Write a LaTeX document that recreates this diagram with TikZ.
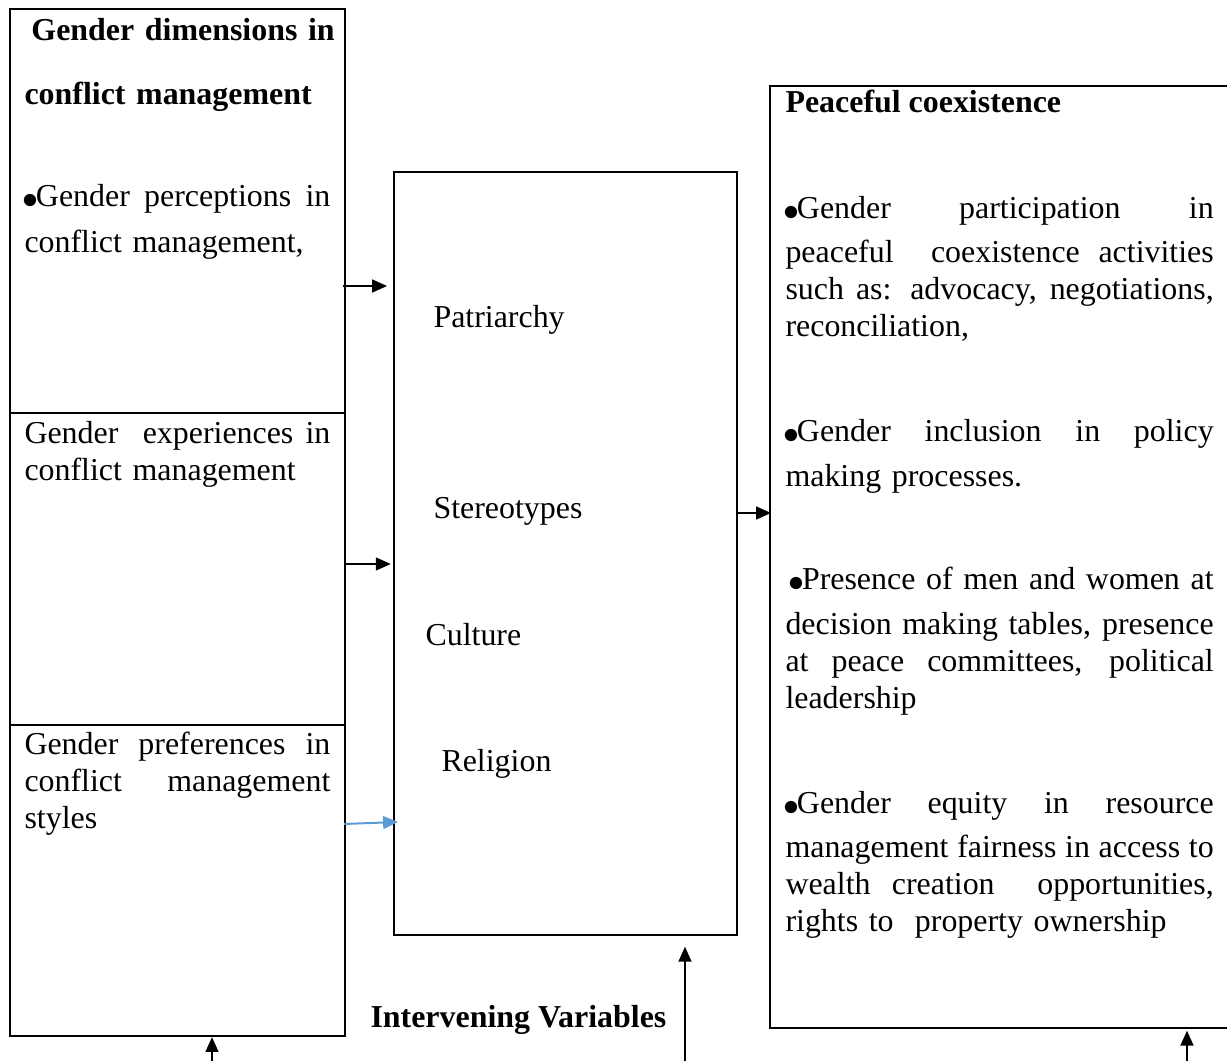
\documentclass[tikz,border=0pt]{standalone}
\usepackage{fontspec}
\setmainfont{Liberation Serif}
\usetikzlibrary{arrows.meta,fit}

\newcommand{\jl}[2]{\makebox[#1][s]{\spaceskip=0pt\xspaceskip=0pt\strut#2}}
\newcommand{\bul}{\raisebox{-0.8pt}{\hbox to 4.3pt{\hss\fontsize{11.5}{11.5}\selectfont$\bullet$\hss}}}

\begin{document}
\begin{tikzpicture}[
  x=0.376pt, y=-0.376pt,
  every node/.style={font=\fontsize{12}{13.9}\selectfont},
  box/.style={draw, line width=0.8pt, inner sep=0pt},
  ltext/.style={anchor=north west, inner sep=0pt, text width=115pt, align=left},
  rtext/.style={anchor=north west, inner sep=0pt, text width=161pt, align=left},
  word/.style={anchor=base west, inner sep=0pt},
  arr/.style={draw=black, line width=0.75pt, -{Triangle[length=5.6pt,width=4.8pt]}},
  arrblue/.style={draw=bluearr, line width=0.75pt, -{Triangle[length=5.6pt,width=4.8pt]}}
]
  \definecolor{bluearr}{HTML}{5B9BD5}
  \useasboundingbox (0,0) rectangle (1227,1061);

  % Independent variables: three stacked boxes
  \node[box, fit={(10,9) (345,413)}] (dim) {};
  \node[box, fit={(10,413) (345,725)}] (exp) {};
  \node[box, fit={(10,725) (345,1036)}] (pref) {};

  \node[ltext, text width=125pt] (dimhead) at (24,14) {\bfseries\strut\hspace*{2.6pt}Gender dimensions in\\[10.1pt]conflict management};
  \node[ltext] (perc) at (24,180) {\jl{115pt}{\bul Gender perceptions in}\\[3.4pt]conflict management,};
  \node[ltext] (expt) at (24,417) {\jl{115pt}{Gender~ experiences in}\\conflict management};
  \node[ltext] (preft) at (24,728) {\jl{115pt}{Gender~ preferences~ in}\\\jl{115pt}{conflict management}\\styles};

  % Intervening variables
  \node[box, fit={(394,172) (737,935)}] (mid) {};
  \node[word] (patr) at (433,328) {Patriarchy};
  \node[word] (ster) at (433,519) {Stereotypes};
  \node[word] (cult) at (425,646) {Culture};
  \node[word] (reli) at (441,772) {Religion};
  \node[word, font=\fontsize{12}{13.9}\selectfont\bfseries] (interv) at (370,1028) {Intervening Variables};

  % Dependent variable
  \node[box, fit={(770,86) (1240,1028)}] (coex) {};
  \node[word, font=\fontsize{12}{13.9}\selectfont\bfseries] (coexhead) at (785,113) {Peaceful coexistence};
  \node[rtext] (part) at (785,192) {\jl{161pt}{\bul Gender~ participation~ in}\\[2.6pt]\jl{161pt}{peaceful~ coexistence activities}\\\jl{161pt}{such as: advocacy, negotiations,}\\reconciliation,};
  \node[rtext] (incl) at (785,415) {\jl{161pt}{\bul Gender inclusion in policy}\\[3pt]making processes.};
  \node[rtext] (pres) at (785,563) {\jl{161pt}{\hspace*{1.9pt}\bul Presence of men and women at}\\[3pt]\jl{161pt}{decision making tables, presence}\\\jl{161pt}{at peace committees, political}\\leadership};
  \node[rtext] (equi) at (785,787) {\jl{161pt}{\bul Gender equity in resource}\\[2.6pt]\jl{161pt}{management fairness in access to}\\\jl{161pt}{wealth creation~ opportunities,}\\rights to~ property ownership};

  % Connectors
  \draw[arr] ([xshift=-1.1pt]dim.east |- 0,286) -- ([xshift=-2.2pt]mid.west |- 0,286);
  \draw[arr] ([xshift=-0.8pt]exp.east |- 0,564) -- ([xshift=-0.8pt]mid.west |- 0,564);
  \draw[arrblue] ([xshift=-0.8pt]pref.east |- 0,824) -- ([xshift=1.9pt]mid.west |- 0,822);
  \draw[arr] ([xshift=-0.8pt]mid.east |- 0,513) -- ([xshift=0.8pt]coex.west |- 0,513);

  % Arrows from below
  \coordinate (in1) at (212,1061);
  \coordinate (in2) at (685,1061);
  \coordinate (in3) at (1187,1061);
  \draw[arr] (in1) -- (pref.south -| in1);
  \draw[arr] (in2) -- ([yshift=-4pt]mid.south -| in2);
  \draw[arr] (in3) -- ([yshift=-0.6pt]coex.south -| in3);
\end{tikzpicture}
\end{document}
